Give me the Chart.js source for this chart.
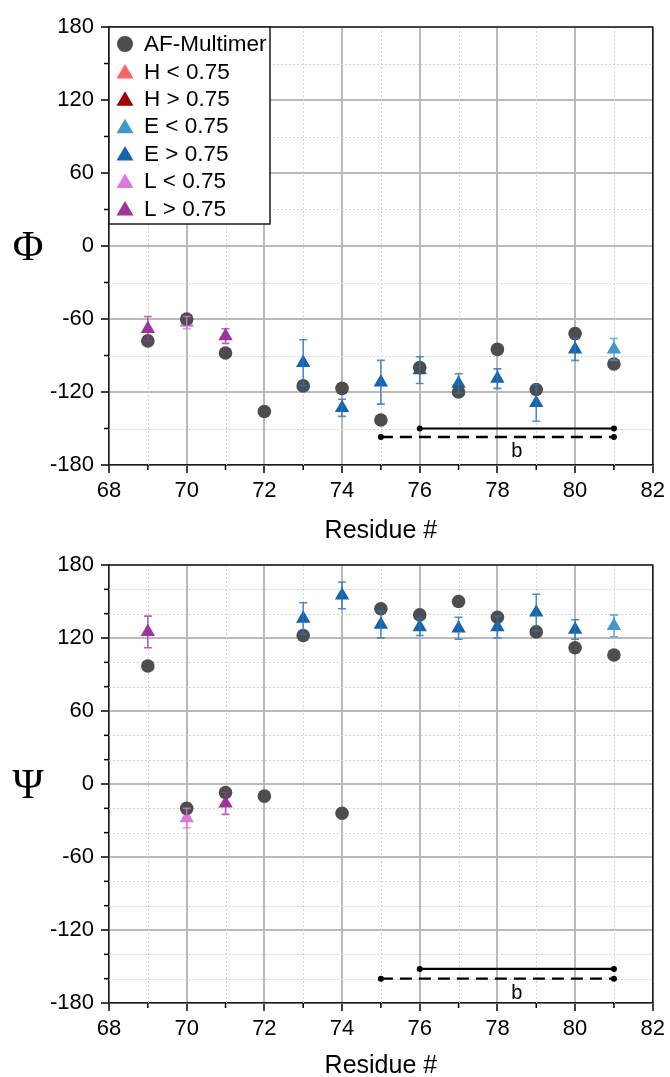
<!DOCTYPE html>
<html>
<head>
<meta charset="utf-8">
<script src="https://cdn.jsdelivr.net/npm/chart.js@4.4.0/dist/chart.umd.min.js"></script>
<style>
  html, body { margin: 0; padding: 0; background: #fff; }
  .box { position: relative; width: 670px; }
  canvas { display: block; }
</style>
</head>
<body>
<div class="box" style="height:538px"><canvas id="phiChart" width="670" height="538"></canvas></div>
<div class="box" style="height:539px"><canvas id="psiChart" width="670" height="539"></canvas></div>
<script>
// residues on the x axis
var residues = [69, 70, 71, 72, 73, 74, 75, 76, 77, 78, 79, 80, 81];
// class of the experimental value at each residue (null = none)
var ssClass = ['L>', 'L<', 'L>', null, 'E>', 'E>', 'E>', 'E>', 'E>', 'E>', 'E>', 'E>', 'E<'];

// Phi
var afPhi   = [-78, -60, -88, -136, -115, -117, -143, -100, -120, -85, -118, -72, -97];
var phiMean = [-68, -63, -74, null, -96, -133, -112, -102, -113, -109, -129, -85, -85];
var phiErr  = [10, 5, 6, null, 19, 7, 18, 11, 8, 8, 15, 9, 9];

// Psi
var afPsi   = [97, -20, -7, -10, 122, -24, 144, 139, 150, 137, 125, 112, 106];
var psiMean = [125, -28, -16, null, 136, 155, 131, 129, 128, 129, 141, 127, 130];
var psiErr  = [13, 8, 9, null, 13, 11, 11, 7, 9, 9, 15, 8, 9];

// strand segments "b" (start/end residues) and their levels
var bSolid  = [76, 81];
var bDashed = [75, 81];
var phiBLevels = [-150, -157, -169];   // solid, dashed, label
var psiBLevels = [-152, -160, -172];

// ticks
var xTicks = [68, 70, 72, 74, 76, 78, 80, 82];
var xMinor = [69, 71, 73, 75, 77, 79, 81];
var yTicks = [-180, -120, -60, 0, 60, 120, 180];
var phiMinor = [-150, -90, -30, 30, 90, 150];
var psiMinor = [-160, -140, -100, -80, -40, -20, 20, 40, 80, 100, 140, 160];

// legend
var legendLabels = ['AF-Multimer', 'H < 0.75', 'H > 0.75', 'E < 0.75', 'E > 0.75', 'L < 0.75', 'L > 0.75'];
var classKeys    = [null, 'H<', 'H>', 'E<', 'E>', 'L<', 'L>'];
var classColors  = ['#4d4d4d', '#ff6464', '#a00000', '#4497cb', '#1565ad', '#dc78dc', '#a0329b'];
var errColors    = [null, 'rgba(255,100,100,0.75)', 'rgba(160,0,0,0.75)', 'rgba(68,151,203,0.8)',
                    'rgba(40,115,185,0.8)', 'rgba(220,120,220,0.8)', 'rgba(160,50,155,0.75)'];

var FONT = '"Liberation Sans", Arial, sans-serif';

var gridPlugin = {
  id: 'minorGrid',
  beforeDatasetsDraw: function (chart, args, opts) {
    var ctx = chart.ctx, a = chart.chartArea;
    var xs = chart.scales.x, ys = chart.scales.y;
    ctx.save();
    ctx.strokeStyle = '#d2d2d2';
    ctx.lineWidth = 1;
    ctx.setLineDash([2, 2]);
    xMinor.forEach(function (v) {
      var p = Math.round(xs.getPixelForValue(v)) + 0.5;
      ctx.beginPath(); ctx.moveTo(p, a.top); ctx.lineTo(p, a.bottom); ctx.stroke();
    });
    opts.minor.forEach(function (v) {
      var p = Math.round(ys.getPixelForValue(v)) + 0.5;
      ctx.beginPath(); ctx.moveTo(a.left, p); ctx.lineTo(a.right, p); ctx.stroke();
    });
    // minor tick marks
    ctx.setLineDash([]);
    ctx.strokeStyle = '#000';
    ctx.lineWidth = 1.5;
    xMinor.forEach(function (v) {
      var p = xs.getPixelForValue(v);
      ctx.beginPath(); ctx.moveTo(p, a.bottom); ctx.lineTo(p, a.bottom + 5); ctx.stroke();
    });
    opts.minor.forEach(function (v) {
      var p = ys.getPixelForValue(v);
      ctx.beginPath(); ctx.moveTo(a.left, p); ctx.lineTo(a.left - 5, p); ctx.stroke();
    });
    ctx.restore();
  },
  afterDatasetsDraw: function (chart, args, opts) {
    var ctx = chart.ctx, a = chart.chartArea;
    var xs = chart.scales.x, ys = chart.scales.y;
    ctx.save();
    // error bars
    chart.data.datasets.forEach(function (ds, i) {
      if (!ds.errs) return;
      var meta = chart.getDatasetMeta(i);
      ctx.strokeStyle = ds.errColor;
      ctx.lineWidth = 1.6;
      ds.data.forEach(function (pt, j) {
        var px = meta.data[j].x;
        var top = ys.getPixelForValue(pt.y + ds.errs[j]);
        var bot = ys.getPixelForValue(pt.y - ds.errs[j]);
        ctx.beginPath();
        ctx.moveTo(px, top); ctx.lineTo(px, bot);
        ctx.moveTo(px - 4, top); ctx.lineTo(px + 4, top);
        ctx.moveTo(px - 4, bot); ctx.lineTo(px + 4, bot);
        ctx.stroke();
      });
    });
    // frame top and right
    ctx.strokeStyle = '#1a1a1a';
    ctx.lineWidth = 1.5;
    ctx.beginPath();
    ctx.moveTo(a.left, a.top); ctx.lineTo(a.right, a.top); ctx.lineTo(a.right, a.bottom);
    ctx.stroke();
    // "b" label
    ctx.fillStyle = '#000';
    ctx.font = '20px ' + FONT;
    ctx.textAlign = 'center';
    ctx.textBaseline = 'middle';
    ctx.fillText('b', xs.getPixelForValue((bSolid[0] + bSolid[1] + 1) / 2 - 0.5), ys.getPixelForValue(opts.bLabel));
    // axis symbol
    ctx.font = '42px "Liberation Serif", "Times New Roman", serif';
    ctx.fillText(opts.symbol, 28, ys.getPixelForValue(0) + 3);
    // legend
    if (opts.legend) {
      var lx = a.left, ly = a.top, w = 161, h = 197;
      ctx.fillStyle = '#fff';
      ctx.fillRect(lx, ly, w, h);
      ctx.strokeRect(lx, ly, w, h);
      ctx.font = '22.5px ' + FONT;
      ctx.textAlign = 'left';
      legendLabels.forEach(function (lab, k) {
        var cy = ly + 17 + k * 27.4;
        ctx.fillStyle = classColors[k];
        ctx.beginPath();
        if (k === 0) {
          ctx.arc(lx + 16, cy, 8, 0, Math.PI * 2);
        } else {
          ctx.moveTo(lx + 16, cy - 7.5);
          ctx.lineTo(lx + 24.5, cy + 7);
          ctx.lineTo(lx + 7.5, cy + 7);
          ctx.closePath();
        }
        ctx.fill();
        ctx.fillStyle = '#000';
        ctx.fillText(lab, lx + 35, cy + 1);
      });
    }
    ctx.restore();
  }
};

function makeChart(id, afVals, meanVals, errVals, minor, levels, symbol, hasLegend, titlePad) {
  var canvas = document.getElementById(id);
  var datasets = [{
    label: legendLabels[0],
    data: residues.map(function (x, i) { return { x: x, y: afVals[i] }; }),
    pointStyle: 'circle',
    pointRadius: 6.8,
    backgroundColor: classColors[0],
    borderWidth: 0
  }];
  for (var k = 1; k < classKeys.length; k++) {
    var pts = [], errs = [];
    residues.forEach(function (x, i) {
      if (ssClass[i] === classKeys[k] && meanVals[i] !== null) {
        pts.push({ x: x, y: meanVals[i] });
        errs.push(errVals[i]);
      }
    });
    datasets.push({
      label: legendLabels[k],
      data: pts,
      errs: errs,
      errColor: errColors[k],
      pointStyle: 'triangle',
      pointRadius: 8.3,
      backgroundColor: classColors[k],
      borderWidth: 0
    });
  }
  datasets.push({
    label: 'b solid',
    data: [{ x: bSolid[0], y: levels[0] }, { x: bSolid[1], y: levels[0] }],
    showLine: true,
    borderColor: '#000',
    borderWidth: 2.2,
    pointRadius: 3,
    pointBackgroundColor: '#000',
    pointBorderWidth: 0
  });
  datasets.push({
    label: 'b dashed',
    data: [{ x: bDashed[0], y: levels[1] }, { x: bDashed[1], y: levels[1] }],
    showLine: true,
    borderColor: '#000',
    borderWidth: 2.4,
    borderDash: [12, 7],
    pointRadius: 3,
    pointBackgroundColor: '#000',
    pointBorderWidth: 0
  });

  var tickFont = { family: FONT, size: 22 };
  return new Chart(canvas, {
    type: 'scatter',
    data: { datasets: datasets },
    plugins: [gridPlugin],
    options: {
      responsive: false,
      animation: false,
      devicePixelRatio: 1,
      layout: { padding: { top: 27, right: 15, left: 0, bottom: 0 } },
      plugins: {
        legend: { display: false },
        tooltip: { enabled: false },
        minorGrid: { minor: minor, bLabel: levels[2], symbol: symbol, legend: hasLegend }
      },
      scales: {
        x: {
          type: 'linear',
          min: 68, max: 82,
          afterBuildTicks: function (s) { s.ticks = xTicks.map(function (v) { return { value: v }; }); },
          afterFit: function (s) { s.height = canvas.height - 465; },
          ticks: { font: tickFont, color: '#000', padding: 5, maxRotation: 0 },
          grid: { color: '#bababa', lineWidth: 2, tickColor: '#000', tickLength: 8, tickWidth: 1.5 },
          border: { color: '#1a1a1a', width: 1.5 },
          title: { display: true, text: 'Residue #', color: '#000',
                   font: { family: FONT, size: 25, lineHeight: 1 }, padding: { top: 0, bottom: titlePad } }
        },
        y: {
          min: -180, max: 180,
          afterBuildTicks: function (s) { s.ticks = yTicks.map(function (v) { return { value: v }; }); },
          afterFit: function (s) { s.width = 109; },
          ticks: { font: tickFont, color: '#000', padding: 7 },
          grid: { color: '#bababa', lineWidth: 2, tickColor: '#000', tickLength: 8, tickWidth: 1.5 },
          border: { color: '#1a1a1a', width: 1.5 }
        }
      }
    }
  });
}

makeChart('phiChart', afPhi, phiMean, phiErr, phiMinor, phiBLevels, '\u03A6', true, -5.5);
makeChart('psiChart', afPsi, psiMean, psiErr, psiMinor, psiBLevels, '\u03A8', false, -1.5);
</script>
</body>
</html>
